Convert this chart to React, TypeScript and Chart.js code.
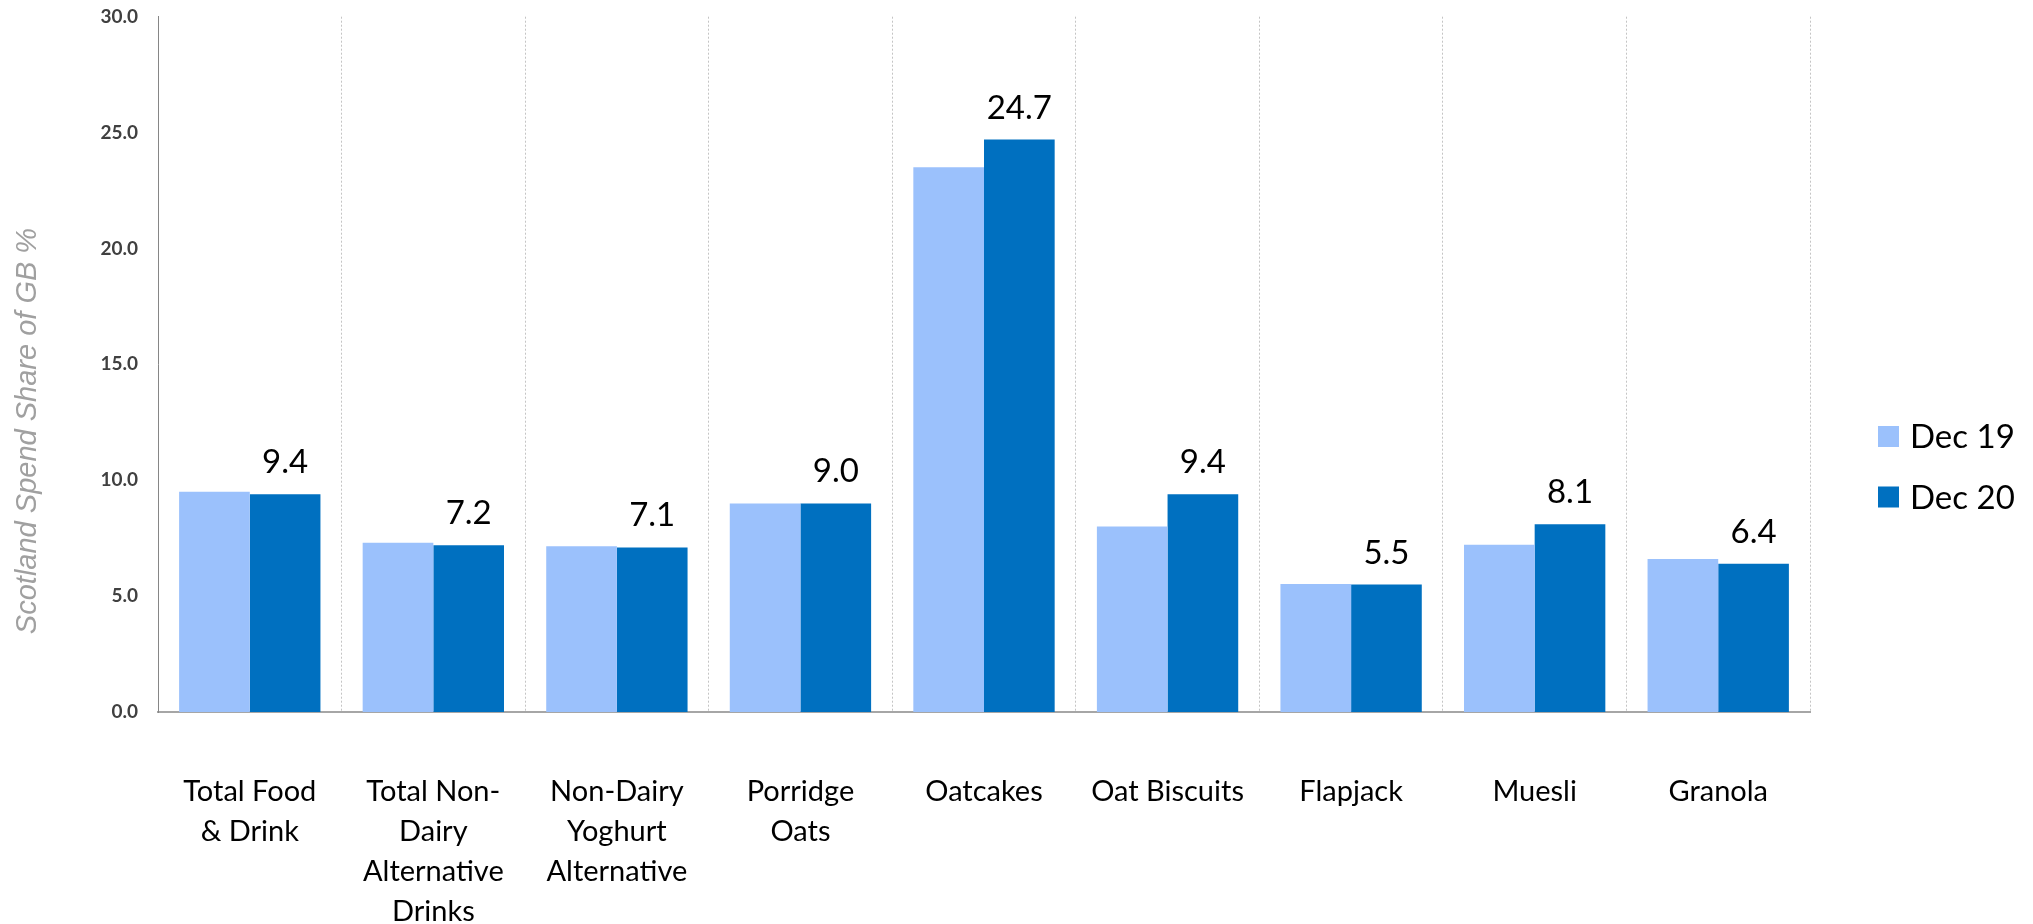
import React, { useEffect, useRef } from "react";
import { Chart, registerables } from "chart.js";

Chart.register(...registerables);

const categories: string[][] = [
  ["Total Food", "& Drink"],
  ["Total Non-", "Dairy", "Alternative", "Drinks"],
  ["Non-Dairy", "Yoghurt", "Alternative"],
  ["Porridge", "Oats"],
  ["Oatcakes"],
  ["Oat Biscuits"],
  ["Flapjack"],
  ["Muesli"],
  ["Granola"],
];

const seriesNames = ["Dec 19", "Dec 20"];
const dec19 = [9.5, 7.3, 7.15, 9.0, 23.5, 8.0, 5.52, 7.22, 6.6];
const dec20 = [9.4, 7.2, 7.1, 9.0, 24.7, 9.4, 5.5, 8.1, 6.4];
const yTicks = [0, 5, 10, 15, 20, 25, 30];
const yTitle = "Scotland Spend Share of GB %";

const COLORS = ["#9BC1FC", "#0070C0"];
const FONT = "Lato, 'Noto Sans', sans-serif";

const yTitlePlugin = {
  id: "yTitlePlugin",
  afterDraw(chart: any) {
    const ctx = chart.ctx;
    ctx.save();
    ctx.translate(28, 431);
    ctx.rotate(-Math.PI / 2);
    ctx.font = "italic 29px 'Liberation Sans', Arial, sans-serif";
    ctx.fillStyle = "#A0A0A0";
    ctx.textAlign = "center";
    ctx.textBaseline = "middle";
    ctx.fillText(yTitle, 0, 0);
    ctx.restore();
  },
};

const dataLabelPlugin = {
  id: "dataLabelPlugin",
  afterDatasetsDraw(chart: any) {
    const ctx = chart.ctx;
    const meta = chart.getDatasetMeta(1);
    ctx.save();
    ctx.font = `33px ${FONT}`;
    ctx.fillStyle = "#000000";
    ctx.textAlign = "center";
    ctx.textBaseline = "alphabetic";
    meta.data.forEach((bar: any, i: number) => {
      const v = chart.data.datasets[1].data[i] as number;
      ctx.fillText(v.toFixed(1), bar.x, bar.y - 21);
    });
    ctx.restore();
  },
};

const legendPlugin = {
  id: "customLegend",
  afterDraw(chart: any) {
    const ctx = chart.ctx;
    const x0 = chart.chartArea.right + 68;
    const yCenters = [436.5, 497];
    ctx.save();
    ctx.font = `33px ${FONT}`;
    ctx.textAlign = "left";
    ctx.textBaseline = "alphabetic";
    chart.data.datasets.forEach((ds: any, i: number) => {
      const yc = yCenters[i];
      ctx.fillStyle = ds.backgroundColor;
      ctx.fillRect(x0, yc - 10.5, 21, 21);
      ctx.fillStyle = "#000000";
      ctx.fillText(ds.label, x0 + 32, yc + 11.5);
    });
    ctx.restore();
  },
};

export default function App() {
  const ref = useRef<HTMLCanvasElement>(null);

  useEffect(() => {
    if (!ref.current) return;
    const chart = new Chart(ref.current, {
      type: "bar",
      data: {
        labels: categories,
        datasets: [
          {
            label: seriesNames[0],
            data: dec19,
            backgroundColor: COLORS[0],
            borderWidth: 0,
            categoryPercentage: 0.77,
            barPercentage: 1.0,
          },
          {
            label: seriesNames[1],
            data: dec20,
            backgroundColor: COLORS[1],
            borderWidth: 0,
            categoryPercentage: 0.77,
            barPercentage: 1.0,
          },
        ],
      },
      options: {
        responsive: false,
        animation: false,
        devicePixelRatio: 1,
        layout: { padding: { top: 0, right: 223, bottom: 0, left: 0 } },
        plugins: {
          legend: { display: false },
          tooltip: { enabled: false },
          title: { display: false },
        },
        scales: {
          x: {
            grid: {
              display: true,
              offset: true,
              drawTicks: false,
              color: "#C4C4C4",
              lineWidth: 1,
            },
            border: { display: true, color: "#A6A6A6", width: 2, dash: [2, 2] },
            ticks: {
              color: "#000000",
              font: { family: FONT, size: 29, lineHeight: 1.38 },
              padding: 60,
              maxRotation: 0,
              minRotation: 0,
              autoSkip: false,
            },
            afterFit: (s: any) => {
              s.height = 212;
            },
          },
          y: {
            min: 0,
            max: 30,
            afterBuildTicks: (s: any) => {
              s.ticks = yTicks.map((v) => ({ value: v }));
            },
            grid: { display: false, drawTicks: false },
            border: { display: true, color: "#868686", width: 1 },
            ticks: {
              color: "#404040",
              font: { family: FONT, size: 19, weight: "bold" },
              padding: 20,
              callback: (v: any) => Number(v).toFixed(1),
            },
            afterFit: (s: any) => {
              s.width = 158;
              s.paddingTop = 16.7;
              s.paddingBottom = 0;
            },
          },
        },
      },
      plugins: [yTitlePlugin, dataLabelPlugin, legendPlugin],
    } as any);
    return () => chart.destroy();
  }, []);

  return (
    <div style={{ position: "fixed", left: 0, top: 0, width: 2033, height: 924, background: "#fff" }}>
      <canvas ref={ref} width={2033} height={924} style={{ display: "block" }} />
    </div>
  );
}
